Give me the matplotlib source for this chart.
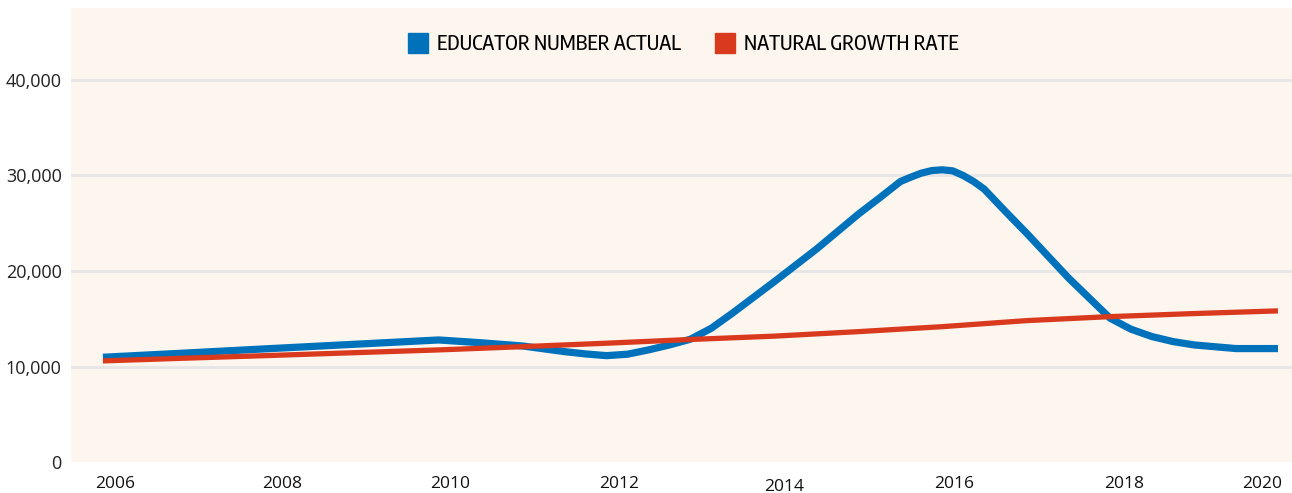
import matplotlib
matplotlib.use("Agg")
import matplotlib.pyplot as plt
import matplotlib.transforms as mtransforms
from matplotlib.lines import Line2D
from matplotlib.ticker import FuncFormatter

# values
educator_years = [2006, 2007, 2008, 2009, 2010, 2010.5, 2011, 2011.5, 2011.75, 2012,
                  2012.25, 2012.5, 2012.75, 2013, 2013.25, 2013.5, 2014, 2014.5,
                  2015, 2015.25, 2015.5, 2015.625, 2015.75, 2015.875, 2016, 2016.125,
                  2016.25, 2016.375, 2016.5, 2016.75,
                  2017, 2017.5, 2018, 2018.25, 2018.5, 2018.75, 2019, 2019.5, 2020]
educator_actual = [10980, 11430, 11890, 12340, 12790, 12500, 12160, 11570, 11330, 11150,
                   11300, 11750, 12270, 12870, 14020, 15590, 18890, 22280,
                   25940, 27620, 29350, 29810, 30230, 30500, 30580, 30470,
                   29980, 29350, 28560, 26250,
                   24000, 19310, 15060, 13910, 13140, 12620, 12270, 11890, 11890]

growth_years = [2006, 2007, 2008, 2009, 2010, 2011, 2012, 2013, 2014, 2015, 2016, 2017, 2018, 2019, 2020]
natural_growth = [10600, 10890, 11170, 11460, 11750, 12090, 12450, 12840, 13190, 13660,
                  14180, 14810, 15230, 15550, 15830]

tick_years = [2006, 2008, 2010, 2012, 2014, 2016, 2018, 2020]
y_ticks = [0, 10000, 20000, 30000, 40000]

blue = "#0072BC"
red = "#D93A1E"
cream = "#FDF6EF"
sans = ["Open Sans", "DejaVu Sans"]
narrow = ["Encode Sans Condensed", "Archivo Narrow", "DejaVu Sans"]

fig = plt.figure(figsize=(12.92, 4.93), dpi=100)
ax = fig.add_axes([0.0553, 0.0623, 0.9447, 0.9215])
ax.set_facecolor(cream)

ax.plot(educator_years, educator_actual, color=blue, lw=5.2,
        solid_joinstyle="round", solid_capstyle="butt", zorder=3)
ax.plot(growth_years, natural_growth, color=red, lw=3.8,
        solid_joinstyle="round", solid_capstyle="butt", zorder=4)

ax.set_xlim(2005.625, 2020.167)
ax.set_ylim(0, 47500)

for s in ax.spines.values():
    s.set_visible(False)

ax.set_yticks(y_ticks)
ax.yaxis.set_major_formatter(FuncFormatter(lambda v, p: f"{int(v):,}"))
ax.tick_params(axis="y", length=0, pad=7, labelsize=13, labelcolor="#222222")
for lab in ax.get_yticklabels():
    lab.set_family(sans)
for v in y_ticks[1:]:
    ax.axhline(v, color="#E7E6E6", lw=2, zorder=1)

ax.set_xticks(tick_years)
ax.set_xticklabels([str(y) for y in tick_years])
ax.tick_params(axis="x", length=0, pad=10, labelsize=12.5, labelcolor="#111111")
# small shifts of the year labels as in the original
dx = [12, 11, 11, 13, 10, 12, 14, -16]
dy = [0, 0, 0, 0, -3, 0, 0, 0]
for lab, ox, oy in zip(ax.get_xticklabels(), dx, dy):
    lab.set_family(sans)
    lab.set_transform(lab.get_transform() +
                      mtransforms.ScaledTranslation(ox / 100, oy / 100, fig.dpi_scale_trans))

handles = [Line2D([], [], marker="s", linestyle="none", color=blue, markersize=14),
           Line2D([], [], marker="s", linestyle="none", color=red, markersize=14)]
ax.legend(handles, ["EDUCATOR NUMBER ACTUAL", "NATURAL GROWTH RATE"],
          loc="center", bbox_to_anchor=(0.5014, 0.921), ncol=2, frameon=False,
          handlelength=0.95, handletextpad=0.45, columnspacing=1.75,
          prop={"family": narrow, "size": 14.5, "weight": "medium"})

fig.savefig("out.png", dpi=100)
